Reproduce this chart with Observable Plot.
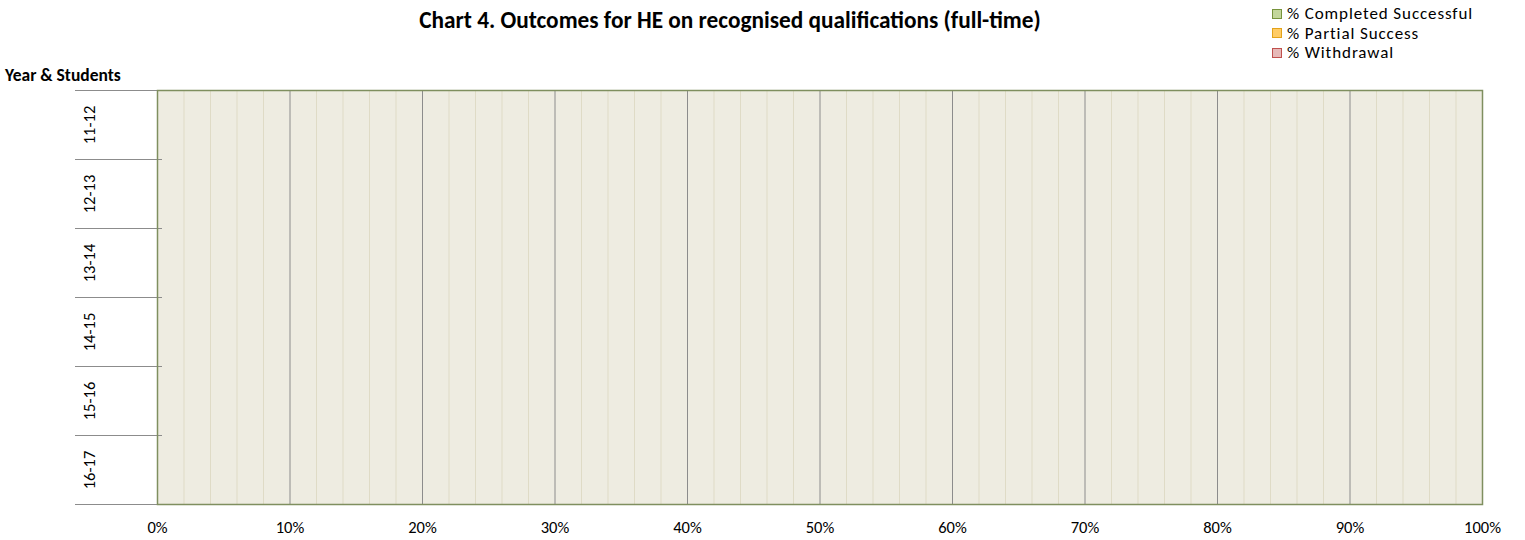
<!DOCTYPE html>
<html>
<head>
<meta charset="utf-8">
<script src="https://cdn.jsdelivr.net/npm/d3@7"></script>
<script src="https://cdn.jsdelivr.net/npm/@observablehq/plot@0.6"></script>
<style>
  body { margin: 0; background: #fff; font-family: Carlito, Calibri, Lato, sans-serif; }
  #wrap { position: relative; width: 1525px; height: 540px; overflow: hidden; }
  #chart { position: absolute; left: 0; top: 0; }
  .title { position: absolute; left: 0; width: 1460px; top: 6px; line-height: 28px; text-align: center; font-weight: bold; font-size: 23.3px; color: #000; white-space: nowrap; }
  .ytitle { position: absolute; left: 5px; top: 65px; line-height: 21px; font-weight: bold; font-size: 17.5px; white-space: nowrap; }
  .legend { position: absolute; left: 1272px; top: 4px; font-size: 17px; line-height: 19.5px; letter-spacing: 0.9px; }
  .legend div { display: flex; align-items: center; white-space: nowrap; height: 19.5px; }
  .legend span.sw { display: inline-block; width: 10px; height: 10px; margin-right: 5px; box-sizing: border-box; }
</style>
</head>
<body>
<div id="wrap">
  <div id="chart"></div>
  <div class="title">Chart 4. Outcomes for HE on recognised qualifications (full-time)</div>
  <div class="ytitle">Year &amp; Students</div>
  <div class="legend" id="legend"></div>
</div>
<script>
// ---- data (no bars are drawn, all values are zero) ----
const years = ["11-12", "12-13", "13-14", "14-15", "15-16", "16-17"];
const seriesNames = ["% Completed Successful", "% Partial Success", "% Withdrawal"];
const completed = [0, 0, 0, 0, 0, 0];
const partial = [0, 0, 0, 0, 0, 0];
const withdrawal = [0, 0, 0, 0, 0, 0];
const xTicks = [0, 10, 20, 30, 40, 50, 60, 70, 80, 90, 100];
const seriesColors = ["#C3D69B", "#FFCC66", "#E6B9B8"];
const seriesBorders = ["#77933C", "#E3A21A", "#C0504D"];

// stacked rows
const rows = [];
years.forEach((yr, i) => {
  let acc = 0;
  [completed, partial, withdrawal].forEach((arr, s) => {
    const v = arr[i];
    rows.push({year: yr, idx: i, series: seriesNames[s], x1: acc, x2: acc + v});
    acc += v;
  });
});

const minorGrid = d3.range(0, 101, 2).filter(d => d % 10 !== 0);
const majorGrid = xTicks.filter(d => d > 0 && d < 100);
const boundaries = d3.range(years.length + 1);
const centers = years.map((_, i) => i + 0.5);

const chart = Plot.plot({
  width: 1525,
  height: 540,
  marginLeft: 157,
  marginRight: 43,
  marginTop: 90,
  marginBottom: 36,
  style: {fontFamily: "Carlito, Calibri, Lato, sans-serif", fontSize: "16.5px", color: "#000", background: "transparent"},
  x: {domain: [0, 100]},
  y: {domain: [0, years.length], reverse: true},
  color: {domain: seriesNames, range: seriesColors},
  marks: [
    Plot.frame({fill: "#EEECE1", stroke: null}),
    Plot.ruleX(minorGrid, {stroke: "#DFDBC6", strokeWidth: 1}),
    Plot.ruleX(majorGrid, {stroke: "#8C8C8C", strokeWidth: 1}),
    Plot.rect(rows, {x1: "x1", x2: "x2", y1: d => d.idx + 0.2, y2: d => d.idx + 0.8, fill: "series"}),
    Plot.axisY({ticks: boundaries, tickSize: 87, dx: 5, tickFormat: () => "", stroke: "#8C8C8C", label: null}),
    Plot.axisY({ticks: centers, tickSize: 0, tickPadding: 68, rotate: -90, textAnchor: "middle",
                tickFormat: d => years[Math.floor(d)], fontSize: 16.5, fill: "#000", label: null}),
    Plot.axisX({ticks: xTicks, tickSize: 0, tickPadding: 17, tickFormat: d => d + "%", fontSize: 16.5, fill: "#000", label: null}),
    Plot.frame({stroke: "#7F8F5F", strokeWidth: 1.5})
  ]
});
document.getElementById("chart").appendChild(chart);

// legend
const leg = document.getElementById("legend");
seriesNames.forEach((n, i) => {
  const row = document.createElement("div");
  row.innerHTML = `<span class="sw" style="background:${seriesColors[i]};border:1px solid ${seriesBorders[i]}"></span>${n}`;
  leg.appendChild(row);
});
</script>
</body>
</html>
